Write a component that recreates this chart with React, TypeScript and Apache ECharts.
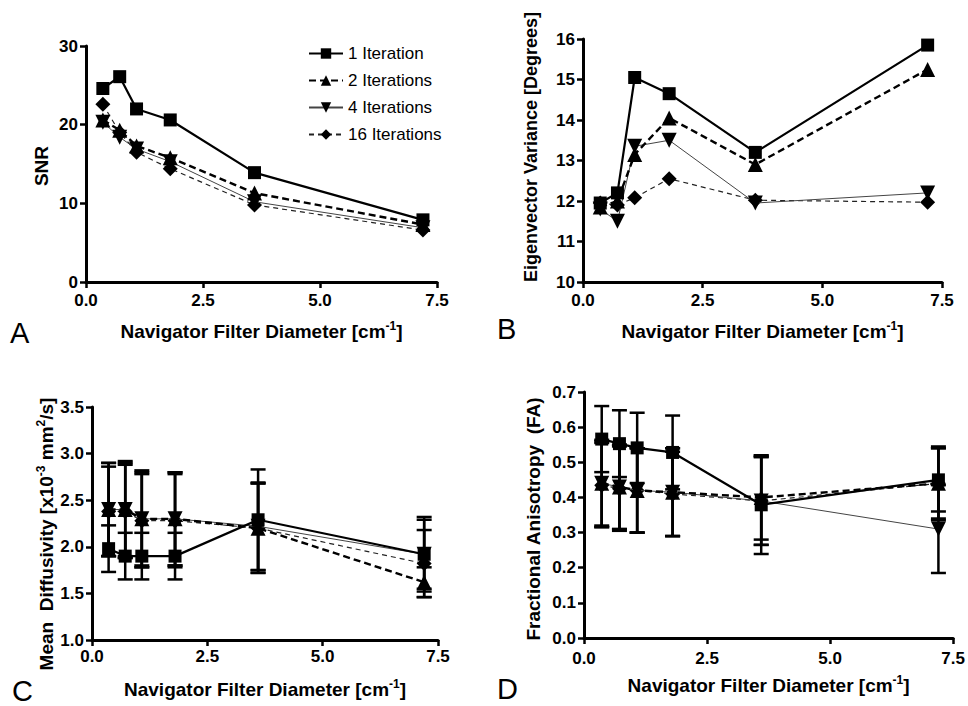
import React, { useEffect, useRef } from "react";
import * as echarts from "echarts";

// ---------- data ----------
const xValues = [0.36, 0.72, 1.08, 1.8, 3.6, 7.2];
const seriesNames = ["1 Iteration", "2 Iterations", "4 Iterations", "16 Iterations"];
const xTicks = [0, 2.5, 5, 7.5];

// Panel A: SNR
const snrTicks = [0, 10, 20, 30];
const snr1 = [24.6, 26.1, 22.0, 20.6, 13.9, 7.9];
const snr2 = [20.6, 19.3, 17.3, 15.8, 11.3, 7.3];
const snr4 = [20.3, 18.4, 16.9, 15.3, 10.2, 6.9];
const snr16 = [22.6, 19.0, 16.5, 14.4, 9.8, 6.6];

// Panel B: Eigenvector variance [degrees]
const eigTicks = [10, 11, 12, 13, 14, 15, 16];
const eig1 = [11.95, 12.2, 15.05, 14.65, 13.2, 15.85];
const eig2 = [11.85, 12.0, 13.15, 14.05, 12.9, 15.25];
const eig4 = [11.8, 11.5, 13.35, 13.5, 11.95, 12.2];
const eig16 = [11.95, 11.9, 12.08, 12.55, 12.02, 11.97];

// Panel C: Mean diffusivity (mean and SD)
const mdTicks = [1.0, 1.5, 2.0, 2.5, 3.0, 3.5];
const md1 = [1.98, 1.9, 1.9, 1.9, 2.29, 1.92];
const md1Sd = [0.25, 0.25, 0.25, 0.25, 0.54, 0.4];
const md2 = [2.4, 2.4, 2.3, 2.3, 2.2, 1.62];
const md2Sd = [0.5, 0.52, 0.52, 0.5, 0.48, 0.16];
const md4 = [2.4, 2.4, 2.3, 2.3, 2.22, 1.92];
const md4Sd = [0.5, 0.5, 0.5, 0.5, 0.47, 0.37];
const md16 = [2.38, 2.38, 2.28, 2.28, 2.2, 1.82];
const md16Sd = [0.48, 0.5, 0.5, 0.5, 0.48, 0.36];

// Panel D: Fractional anisotropy (mean and SD)
const faTicks = [0.0, 0.1, 0.2, 0.3, 0.4, 0.5, 0.6, 0.7];
const fa1 = [0.566, 0.553, 0.541, 0.528, 0.379, 0.45];
const fa1Sd = [0.094, 0.095, 0.1, 0.105, 0.14, 0.09];
const fa2 = [0.44, 0.43, 0.42, 0.415, 0.4, 0.44];
const fa2Sd = [0.124, 0.12, 0.12, 0.125, 0.12, 0.1];
const fa4 = [0.44, 0.43, 0.42, 0.415, 0.39, 0.31];
const fa4Sd = [0.12, 0.12, 0.12, 0.125, 0.125, 0.125];
const fa16 = [0.435, 0.425, 0.42, 0.41, 0.39, 0.44];
const fa16Sd = [0.12, 0.12, 0.12, 0.12, 0.125, 0.105];

// ---------- styling ----------
const FONT = "'Liberation Sans', Arial, Helvetica, sans-serif";
const TICK_FONT = 17;
const TITLE_FONT = 19;

const seriesStyles = [
  { symbol: "rect", rotate: 0, size: 13, lineType: "solid" as any, lineWidth: 2.2, lineColor: "#000" },
  { symbol: "triangle", rotate: 0, size: 15, lineType: [7, 4] as any, lineWidth: 2.4, lineColor: "#000" },
  { symbol: "triangle", rotate: 180, size: 15, lineType: "solid" as any, lineWidth: 1, lineColor: "#444" },
  { symbol: "diamond", rotate: 0, size: 15, lineType: [5, 4] as any, lineWidth: 1.2, lineColor: "#222" },
];

const grids = [
  { left: 86, top: 46, width: 351, height: 236 },
  { left: 583, top: 39, width: 359, height: 243 },
  { left: 92, top: 407, width: 346, height: 233 },
  { left: 584, top: 392, width: 370, height: 246 },
];

const panels = [
  { ticks: snrTicks, values: [snr1, snr2, snr4, snr16], sds: null as null | number[][], digits: 0, xMargin: 10, nameGap: 38 },
  { ticks: eigTicks, values: [eig1, eig2, eig4, eig16], sds: null as null | number[][], digits: 0, xMargin: 10, nameGap: 38 },
  { ticks: mdTicks, values: [md1, md2, md4, md16], sds: [md1Sd, md2Sd, md4Sd, md16Sd], digits: 1, xMargin: 8, nameGap: 38 },
  { ticks: faTicks, values: [fa1, fa2, fa4, fa16], sds: [fa1Sd, fa2Sd, fa4Sd, fa16Sd], digits: 1, xMargin: 12, nameGap: 36 },
];

const yTitles = [
  { text: "SNR", x: 41, y: 166, size: 19 },
  { text: "Eigenvector Variance [Degrees]", x: 531, y: 147, size: 18 },
  { text: "Mean  Diffusivity [x10{sup|-3} mm{sup|2}/s]", x: 46, y: 534, size: 19 },
  { text: "Fractional Anisotropy  (FA)", x: 533, y: 519, size: 19 },
];

const letters = [
  { text: "A", x: 10, y: 333 },
  { text: "B", x: 497, y: 329 },
  { text: "C", x: 12, y: 691 },
  { text: "D", x: 497, y: 689 },
];

const supRich = {
  sup: { fontSize: 12, fontWeight: "bold", fontFamily: FONT, color: "#000", padding: [0, 0, 10, 0] },
};

function errorBarRender(params: any, api: any) {
  const x = api.value(0);
  const lo = api.value(1);
  const hi = api.value(2);
  const a = api.coord([x, lo]);
  const b = api.coord([x, hi]);
  const w = 7.5;
  const style = { stroke: "#000", lineWidth: 2.5 };
  return {
    type: "group",
    children: [
      { type: "line", shape: { x1: a[0], y1: a[1], x2: b[0], y2: b[1] }, style },
      { type: "line", shape: { x1: a[0] - w, y1: a[1], x2: a[0] + w, y2: a[1] }, style },
      { type: "line", shape: { x1: b[0] - w, y1: b[1], x2: b[0] + w, y2: b[1] }, style },
    ],
  };
}

function buildOption() {
  const xAxis = panels.map((p, i) => ({
    gridIndex: i,
    type: "value",
    min: xTicks[0],
    max: xTicks[xTicks.length - 1],
    interval: xTicks[1] - xTicks[0],
    axisLine: { show: true, onZero: false, lineStyle: { color: "#000", width: 3 } },
    axisTick: { show: true, length: 6, lineStyle: { color: "#000", width: 2.5 } },
    axisLabel: {
      margin: p.xMargin,
      color: "#000",
      fontSize: TICK_FONT,
      fontWeight: "bold",
      fontFamily: FONT,
      formatter: (v: number) => v.toFixed(1),
    },
    splitLine: { show: false },
    name: "Navigator Filter Diameter [cm{sup|-1}]",
    nameLocation: "middle",
    nameGap: p.nameGap,
    nameTextStyle: { color: "#000", fontSize: TITLE_FONT, fontWeight: "bold", fontFamily: FONT, rich: supRich },
  }));

  const yAxis = panels.map((p, i) => ({
    gridIndex: i,
    type: "value",
    min: p.ticks[0],
    max: p.ticks[p.ticks.length - 1],
    interval: p.ticks[1] - p.ticks[0],
    axisLine: { show: true, onZero: false, lineStyle: { color: "#000", width: 3 } },
    axisTick: { show: true, length: 6, lineStyle: { color: "#000", width: 2.5 } },
    axisLabel: {
      margin: 8,
      color: "#000",
      fontSize: TICK_FONT,
      fontWeight: "bold",
      fontFamily: FONT,
      formatter: (v: number) => v.toFixed(p.digits),
    },
    splitLine: { show: false },
  }));

  const series: any[] = [];
  panels.forEach((p, pi) => {
    if (p.sds) {
      p.values.forEach((vals, si) => {
        const sd = p.sds![si];
        series.push({
          type: "custom",
          name: seriesNames[si] + " SD",
          xAxisIndex: pi,
          yAxisIndex: pi,
          renderItem: errorBarRender,
          encode: { x: 0, y: [1, 2] },
          data: xValues.map((x, k) => [x, vals[k] - sd[k], vals[k] + sd[k]]),
          z: 1,
          silent: true,
        });
      });
    }
    p.values.forEach((vals, si) => {
      const st = seriesStyles[si];
      series.push({
        type: "line",
        name: seriesNames[si],
        xAxisIndex: pi,
        yAxisIndex: pi,
        data: xValues.map((x, k) => [x, vals[k]]),
        symbol: st.symbol,
        symbolSize: st.size,
        symbolRotate: st.rotate,
        showAllSymbol: true,
        lineStyle: { color: st.lineColor, width: st.lineWidth, type: st.lineType },
        itemStyle: { color: "#000", borderWidth: 0 },
        z: 5 - si * 0.5,
        emphasis: { disabled: true },
      });
    });
  });

  const graphic: any[] = [];
  yTitles.forEach((t) => {
    graphic.push({
      type: "text",
      x: t.x,
      y: t.y,
      rotation: Math.PI / 2,
      style: {
        text: t.text,
        fill: "#000",
        fontSize: t.size,
        fontWeight: "bold",
        fontFamily: FONT,
        align: "center",
        verticalAlign: "middle",
        rich: supRich,
      },
    });
  });
  letters.forEach((l) => {
    graphic.push({
      type: "text",
      x: l.x,
      y: l.y,
      style: {
        text: l.text,
        fill: "#000",
        fontSize: 29,
        lineHeight: 24,
        fontFamily: FONT,
        fontWeight: "normal",
        align: "left",
        verticalAlign: "middle",
      },
    });
  });

  return {
    animation: false,
    backgroundColor: "#fff",
    grid: grids.map((g) => ({ ...g, containLabel: false })),
    xAxis,
    yAxis,
    legend: {
      data: seriesNames,
      orient: "vertical",
      left: 303,
      top: 40,
      itemWidth: 34,
      itemHeight: 13,
      itemGap: 10,
      textStyle: { color: "#000", fontSize: 17, fontFamily: FONT },
      selectedMode: false,
    },
    graphic,
    series,
  };
}

export default function App() {
  const ref = useRef<HTMLDivElement>(null);
  useEffect(() => {
    if (!ref.current) return;
    const chart = echarts.init(ref.current, undefined, { renderer: "svg" });
    chart.setOption(buildOption() as any);
    return () => chart.dispose();
  }, []);
  return (
    <div
      ref={ref}
      style={{ position: "absolute", left: 0, top: 0, width: 968, height: 706, background: "#fff" }}
    />
  );
}
